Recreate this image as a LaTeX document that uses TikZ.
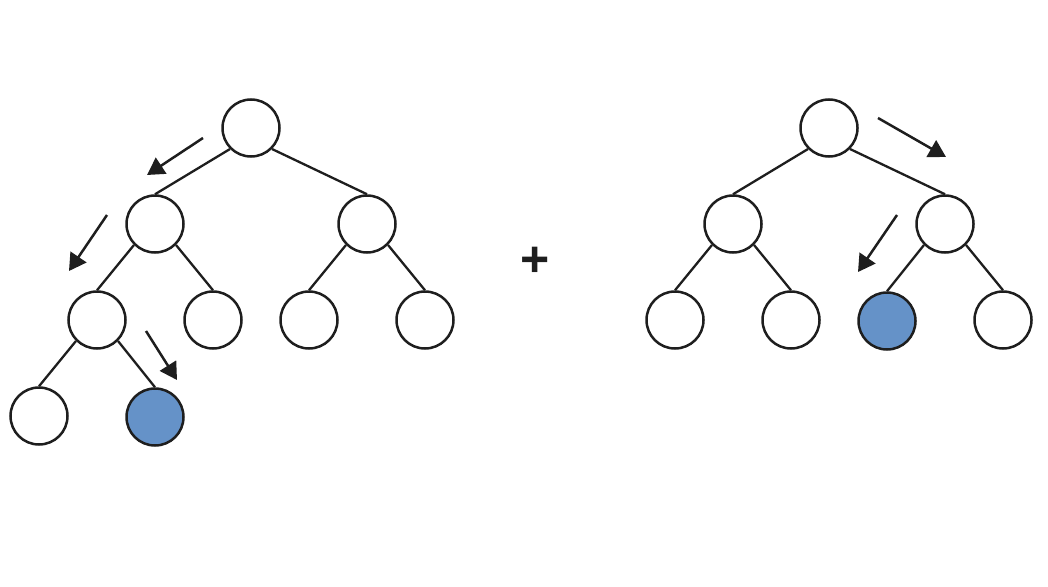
\documentclass[tikz,border=0pt]{standalone}
\usepackage{fontspec}
\newfontfamily\plusfont{Liberation Sans}
\usetikzlibrary{arrows.meta}
\definecolor{leafblue}{HTML}{6592C8}
\definecolor{ink}{HTML}{1E1E1E}
\begin{document}
\begin{tikzpicture}[x=1pt,y=-1pt,
  treenode/.style={circle,draw=ink,line width=2.5pt,fill=white,minimum size=57pt,inner sep=0pt},
  target/.style={treenode,fill=leafblue},
  branch/.style={draw=ink,line width=2.3pt},
  hint/.style={draw=ink,line width=2.5pt,-{Triangle[length=17pt,width=19pt]}}]
\useasboundingbox (0,0) rectangle (1048,586);

% left tree
\node[treenode] (a) at (251,128) {};
\node[treenode] (b) at (155,224) {};
\node[treenode] (c) at (367,224) {};
\node[treenode] (d) at (97,320) {};
\node[treenode] (e) at (213,320) {};
\node[treenode] (f) at (309,320) {};
\node[treenode] (g) at (425,320) {};
\node[treenode] (h) at (39,416) {};
\node[target] (i) at (155,417) {};
\draw[branch] (a.south west) -- (b.north) (a.south east) -- (c.north)
  (b.south west) -- (d.north) (b.south east) -- (e.north)
  (c.south west) -- (f.north) (c.south east) -- (g.north)
  (d.south west) -- (h.north) (d.south east) -- (i.north);

% descent path on the left tree
\coordinate (l1s) at (203,138); \coordinate (l1e) at (147,175);
\coordinate (l2s) at (107,215); \coordinate (l2e) at (69,271);
\coordinate (l3s) at (146,331); \coordinate (l3e) at (177,380);
\draw[hint] (l1s) -- (l1e);
\draw[hint] (l2s) -- (l2e);
\draw[hint] (l3s) -- (l3e);

% plus sign
\node[font=\plusfont\bfseries\fontsize{50}{50}\selectfont,text=ink,inner sep=0pt] (plus) at (535,262) {+};

% right tree
\node[treenode] (p) at (829,128) {};
\node[treenode] (q) at (733,224) {};
\node[treenode] (r) at (945,224) {};
\node[treenode] (s) at (675,320) {};
\node[treenode] (t) at (791,320) {};
\node[target] (u) at (887,321) {};
\node[treenode] (v) at (1003,320) {};
\draw[branch] (p.south west) -- (q.north) (p.south east) -- (r.north)
  (q.south west) -- (s.north) (q.south east) -- (t.north)
  (r.south west) -- (u.north) (r.south east) -- (v.north);

% descent path on the right tree
\coordinate (r1s) at (878,118); \coordinate (r1e) at (946,157);
\coordinate (r2s) at (897,215); \coordinate (r2e) at (858,272);
\draw[hint] (r1s) -- (r1e);
\draw[hint] (r2s) -- (r2e);
\end{tikzpicture}
\end{document}
